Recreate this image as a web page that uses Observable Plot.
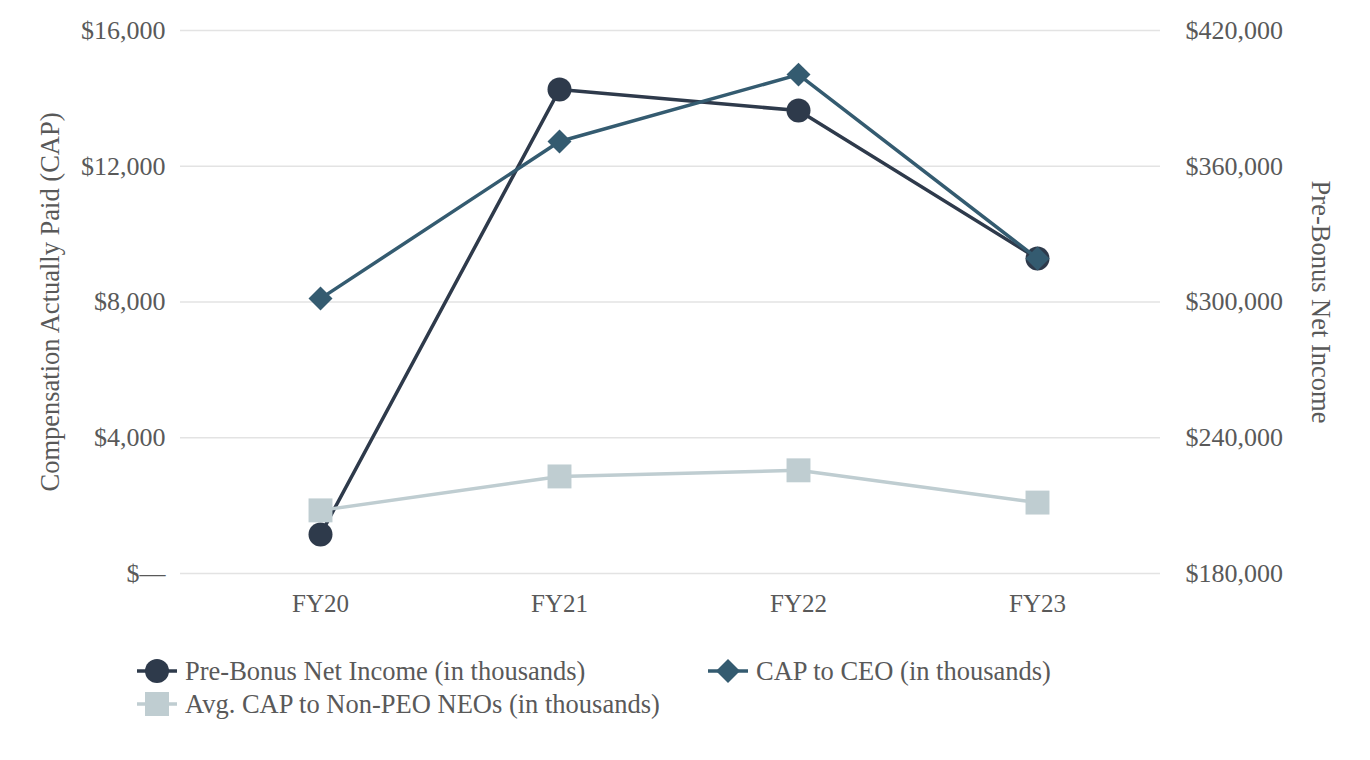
<!DOCTYPE html>
<html>
<head>
<meta charset="utf-8">
<script src="https://cdn.jsdelivr.net/npm/d3@7"></script>
<script src="https://cdn.jsdelivr.net/npm/@observablehq/plot@0.6"></script>
<style>
  html, body { margin: 0; padding: 0; background: #fff; }
  body { width: 1370px; height: 760px; overflow: hidden; font-family: "Liberation Serif", "DejaVu Serif", serif; }
  #chart { position: absolute; left: 0; top: 0; }
  .legend { position: absolute; left: 0; top: 0; font-family: "Liberation Serif", serif; font-size: 26.5px; color: #595959; }
  .item { position: absolute; display: flex; align-items: center; white-space: nowrap; }
  .item svg { margin-right: 8px; }
</style>
</head>
<body>
<div id="chart"></div>
<div class="legend" id="legend"></div>
<script>
const years = ["FY20", "FY21", "FY22", "FY23"];
const netIncome = [197200, 393900, 384600, 319200];   // right axis
const capCEO = [8100, 12730, 14700, 9280];             // left axis
const capNEO = [1860, 2860, 3040, 2090];               // left axis
const leftTicks = [0, 4000, 8000, 12000, 16000];
const rightTicks = [180000, 240000, 300000, 360000, 420000];

const seriesNames = [
  "Pre-Bonus Net Income (in thousands)",
  "CAP to CEO (in thousands)",
  "Avg. CAP to Non-PEO NEOs (in thousands)"
];
const colors = ["#2e3a4b", "#345b70", "#bfcdd1"];

// map right-axis values onto the left scale
const rMin = 180000, rMax = 420000, lMax = 16000;
const toLeft = v => (v - rMin) * lMax / (rMax - rMin);
const fromLeft = v => rMin + v * (rMax - rMin) / lMax;

const niData = years.map((y, i) => ({year: y, v: toLeft(netIncome[i])}));
const ceoData = years.map((y, i) => ({year: y, v: capCEO[i]}));
const neoData = years.map((y, i) => ({year: y, v: capNEO[i]}));

const fmtL = v => v === 0 ? "$\u2014" : "$" + d3.format(",")(v);
const fmtR = v => "$" + d3.format(",")(Math.round(fromLeft(v)));

const font = "Liberation Serif";
const txt = "#595959";
const plot = Plot.plot({
  width: 1370,
  height: 640,
  marginTop: 30,
  marginBottom: 67,
  marginLeft: 180,
  marginRight: 210,
  style: {fontFamily: font, fontSize: "26px", color: txt, background: "transparent"},
  x: {type: "point", domain: years, padding: 0.5417, align: 0.5308, label: null},
  y: {domain: [0, 16000], label: null},
  marks: [
    Plot.ruleY(leftTicks, {stroke: "#e3e3e3", strokeWidth: 1.5}),
    Plot.axisY(leftTicks, {anchor: "left", tickSize: 0, tickPadding: 15, tickFormat: fmtL, label: null, fill: txt, fontSize: 26}),
    Plot.axisY(rightTicks.map(toLeft), {anchor: "right", tickSize: 0, tickPadding: 25, tickFormat: fmtR, label: null, fill: txt, fontSize: 26}),
    Plot.axisX(years, {anchor: "bottom", tickSize: 0, tickPadding: 21, label: null, fill: txt, fontSize: 25}),
    Plot.text(["Compensation Actually Paid (CAP)"], {frameAnchor: "left", textAnchor: "middle", rotate: -90, dx: -130, fill: txt, fontSize: 26.5}),
    Plot.text(["Pre-Bonus Net Income"], {frameAnchor: "right", textAnchor: "middle", rotate: 90, dx: 160, fill: txt, fontSize: 26.5}),
    Plot.line(niData, {x: "year", y: "v", stroke: colors[0], strokeWidth: 3.5}),
    Plot.dot(niData, {x: "year", y: "v", fill: colors[0], r: 12, symbol: "circle"}),
    Plot.line(ceoData, {x: "year", y: "v", stroke: colors[1], strokeWidth: 3.5}),
    Plot.dot(ceoData, {x: "year", y: "v", fill: colors[1], r: 10.8, symbol: "diamond2"}),
    Plot.line(neoData, {x: "year", y: "v", stroke: colors[2], strokeWidth: 3.5}),
    Plot.dot(neoData, {x: "year", y: "v", fill: colors[2], r: 13.5, symbol: "square"})
  ]
});
document.getElementById("chart").appendChild(plot);

// legend
const legendPos = [
  {left: 137, top: 655},
  {left: 708, top: 655},
  {left: 137, top: 688}
];
const symbols = ["circle", "diamond", "square"];
const legend = document.getElementById("legend");
seriesNames.forEach((name, i) => {
  const div = document.createElement("div");
  div.className = "item";
  div.style.left = legendPos[i].left + "px";
  div.style.top = legendPos[i].top + "px";
  const ns = "http://www.w3.org/2000/svg";
  const svg = document.createElementNS(ns, "svg");
  svg.setAttribute("width", 40); svg.setAttribute("height", 32);
  const line = document.createElementNS(ns, "line");
  line.setAttribute("x1", 0); line.setAttribute("x2", 40);
  line.setAttribute("y1", 16); line.setAttribute("y2", 16);
  line.setAttribute("stroke", colors[i]); line.setAttribute("stroke-width", 3.5);
  svg.appendChild(line);
  let shape;
  if (symbols[i] === "circle") {
    shape = document.createElementNS(ns, "circle");
    shape.setAttribute("cx", 20); shape.setAttribute("cy", 16); shape.setAttribute("r", 12);
  } else if (symbols[i] === "diamond") {
    shape = document.createElementNS(ns, "path");
    shape.setAttribute("d", "M20,4L32,16L20,28L8,16Z");
  } else {
    shape = document.createElementNS(ns, "rect");
    shape.setAttribute("x", 8); shape.setAttribute("y", 4);
    shape.setAttribute("width", 24); shape.setAttribute("height", 24);
  }
  shape.setAttribute("fill", colors[i]);
  svg.appendChild(shape);
  div.appendChild(svg);
  const span = document.createElement("span");
  span.textContent = name;
  div.appendChild(span);
  legend.appendChild(div);
});
</script>
</body>
</html>
